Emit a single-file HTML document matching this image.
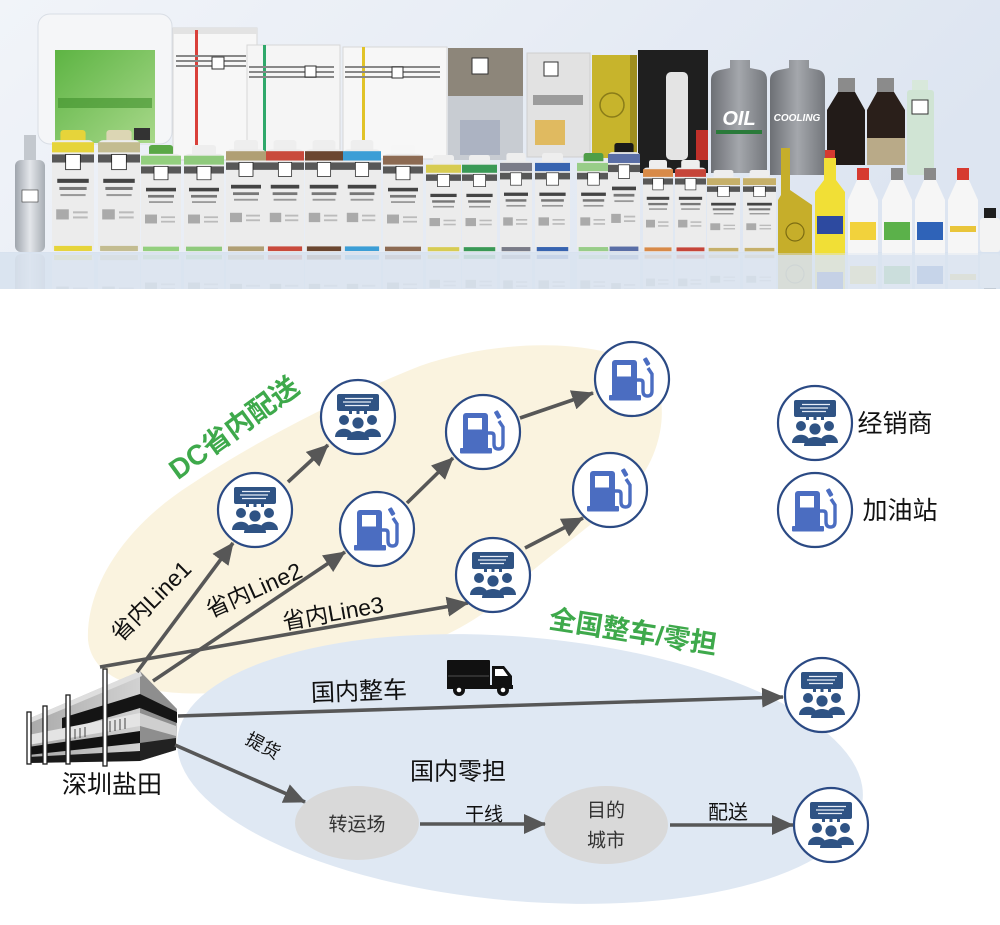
<!DOCTYPE html>
<html><head><meta charset="utf-8">
<style>
html,body{margin:0;padding:0;background:#fff;}
body{width:1000px;height:925px;overflow:hidden;}
svg{display:block;}
text{font-family:"Liberation Sans","Noto Sans CJK SC",sans-serif;}
</style></head>
<body>
<svg width="1000" height="925" viewBox="0 0 1000 925" xmlns="http://www.w3.org/2000/svg">
<defs>
  <linearGradient id="bg" x1="0" y1="0" x2="1" y2="0.3">
    <stop offset="0" stop-color="#f1f4f9"/><stop offset="0.5" stop-color="#e8edf5"/><stop offset="1" stop-color="#dde5f1"/>
  </linearGradient>
  <linearGradient id="grn" x1="0" y1="0" x2="1" y2="1">
    <stop offset="0" stop-color="#5db443"/><stop offset="1" stop-color="#a8d88a"/>
  </linearGradient>
  <linearGradient id="oil" x1="0" y1="0" x2="1" y2="0">
    <stop offset="0" stop-color="#6d7075"/><stop offset="0.5" stop-color="#a4a7ac"/><stop offset="1" stop-color="#74777c"/>
  </linearGradient>
  <linearGradient id="silver" x1="0" y1="0" x2="1" y2="0">
    <stop offset="0" stop-color="#9fa5ad"/><stop offset="0.5" stop-color="#e3e6ea"/><stop offset="1" stop-color="#a7adb4"/>
  </linearGradient>
  <linearGradient id="bldF" x1="0" y1="0" x2="1" y2="0">
    <stop offset="0" stop-color="#a9a9a9"/><stop offset="1" stop-color="#d2d2d2"/>
  </linearGradient>
  <clipPath id="photoClip"><rect x="0" y="0" width="1000" height="289"/></clipPath>
  <clipPath id="reflClip"><rect x="0" y="253" width="1000" height="36"/></clipPath>
  <marker id="ar" markerUnits="userSpaceOnUse" markerWidth="22" markerHeight="20" refX="21" refY="10" orient="auto">
    <path d="M0,0 L22,10 L0,20 z" fill="#575757"/>
  </marker>
  <symbol id="btl" viewBox="0 0 40 120" preserveAspectRatio="none">
    <rect x="8" y="0" width="24" height="14" rx="3" style="fill:var(--cap,#eee)"/>
    <rect x="0" y="10" width="40" height="110" rx="5" fill="#ececec"/>
    <rect x="0" y="12" width="40" height="10" style="fill:var(--band,#ccc)"/>
    <rect x="0" y="24" width="40" height="8" fill="#585858"/>
    <rect x="13" y="24" width="14" height="15" fill="#fff" stroke="#222" stroke-width=".8"/>
    <rect x="5" y="48" width="30" height="4" fill="#444"/>
    <rect x="7" y="56" width="26" height="3" fill="#777"/>
    <rect x="8" y="63" width="24" height="2" fill="#999"/>
    <rect x="4" y="78" width="12" height="10" fill="#aaa"/>
    <rect x="20" y="80" width="14" height="2" fill="#bbb"/>
    <rect x="20" y="85" width="14" height="2" fill="#bbb"/>
    <rect x="2" y="114" width="36" height="5" style="fill:var(--band,#ccc)"/>
  </symbol>
  <g id="dist">
    <circle r="37" fill="#fff" stroke="#2b4a84" stroke-width="2.2"/>
    <rect x="-21" y="-23" width="42" height="17" rx="2" fill="#2f5384"/>
    <path d="M-13,-18.5 h28 M-15,-15 h28 M-13,-11.5 h24" stroke="#e8eef8" stroke-width="1.3"/>
    <rect x="-9" y="-7" width="3" height="4" fill="#2f5384"/>
    <rect x="-1.5" y="-7" width="3" height="4" fill="#2f5384"/>
    <rect x="6" y="-7" width="3" height="4" fill="#2f5384"/>
    <g fill="#2f5384">
      <circle cx="-14" cy="3" r="5"/><circle cx="14" cy="3" r="5"/><circle cx="0" cy="6" r="5.6"/>
      <path d="M-23,20 C-23,9 -5,9 -5,20 Z"/>
      <path d="M5,20 C5,9 23,9 23,20 Z"/>
      <path d="M-11,23 C-11,11 11,11 11,23 Z"/>
    </g>
  </g>
  <g id="gas">
    <circle r="37" fill="#fff" stroke="#2b4a84" stroke-width="2.2"/>
    <g fill="#4b6dc1">
      <rect x="-20" y="-19" width="25" height="38" rx="3"/>
      <rect x="-23" y="16" width="32" height="5.5" rx="1"/>
    </g>
    <rect x="-15" y="-14" width="14" height="11.5" fill="#fff"/>
    <path d="M5,1 h3 q3,0 3,3 v8 q0,5 4.5,5 q4.5,0 4.5,-5 v-17 l-4,-6" fill="none" stroke="#4b6dc1" stroke-width="3.4"/>
    <rect x="12.5" y="-21" width="4.5" height="8" rx="1" fill="#4b6dc1" transform="rotate(-30 14 -17)"/>
  </g>
</defs>

<!-- ================= PRODUCT PHOTO ================= -->
<g clip-path="url(#photoClip)">
  <rect x="0" y="0" width="1000" height="290" fill="url(#bg)"/>
  <rect x="0" y="252" width="1000" height="38" fill="#d8e2ef"/>
  <g id="products">
    <rect x="38" y="14" width="134" height="130" rx="12" fill="#f5f6f8" stroke="#d9dee5"/>
    <rect x="55" y="50" width="100" height="93" fill="url(#grn)"/>
    <rect x="58" y="98" width="94" height="10" fill="#3f8f2c" opacity=".6"/>
    <rect x="134" y="128" width="16" height="12" fill="#333"/>
    <rect x="173" y="28" width="84" height="132" fill="#f7f7f7" stroke="#d7d7d7"/>
    <rect x="173" y="28" width="84" height="6" fill="#e3e3e3"/>
    <rect x="195" y="30" width="3" height="130" fill="#d9403a"/>
    <rect x="176" y="55" width="70" height="2" fill="#888"/><rect x="176" y="60" width="70" height="2" fill="#888"/><rect x="176" y="65" width="70" height="2" fill="#888"/>
    <rect x="212" y="57" width="12" height="12" fill="#fff" stroke="#333"/>
    <rect x="247" y="45" width="93" height="114" fill="#f5f5f5" stroke="#d7d7d7"/>
    <rect x="263" y="45" width="3" height="114" fill="#2fa86a"/>
    <rect x="249" y="66" width="85" height="2" fill="#888"/><rect x="249" y="71" width="85" height="2" fill="#888"/><rect x="249" y="76" width="85" height="2" fill="#888"/>
    <rect x="305" y="66" width="11" height="11" fill="#fff" stroke="#333"/>
    <rect x="343" y="47" width="104" height="112" fill="#f7f7f7" stroke="#d7d7d7"/>
    <rect x="362" y="47" width="3" height="112" fill="#e1c328"/>
    <rect x="345" y="66" width="95" height="2" fill="#888"/><rect x="345" y="71" width="95" height="2" fill="#888"/><rect x="345" y="76" width="95" height="2" fill="#888"/>
    <rect x="392" y="67" width="11" height="11" fill="#fff" stroke="#333"/>
    <rect x="448" y="48" width="75" height="112" fill="#c8ccd2"/>
    <rect x="448" y="48" width="75" height="48" fill="#8d867a"/>
    <rect x="472" y="58" width="16" height="16" fill="#fff" stroke="#333"/>
    <rect x="460" y="120" width="40" height="35" fill="#9fa8bb" opacity=".7"/>
    <rect x="527" y="53" width="63" height="104" fill="#e2e2e2" stroke="#cfcfcf"/>
    <rect x="544" y="62" width="14" height="14" fill="#fff" stroke="#333"/>
    <rect x="533" y="95" width="50" height="10" fill="#555" opacity=".5"/>
    <rect x="535" y="120" width="30" height="25" fill="#e0b040" opacity=".8"/>
    <rect x="592" y="55" width="45" height="103" fill="#c7b42c"/>
    <rect x="630" y="55" width="7" height="103" fill="#9f8e1f"/>
    <circle cx="612" cy="105" r="12" fill="none" stroke="#8a7c18" stroke-width="1.5"/>
    <rect x="638" y="50" width="70" height="123" fill="#1f1f1f"/>
    <rect x="666" y="72" width="22" height="88" rx="5" fill="#e4e4e4"/>
    <rect x="696" y="130" width="12" height="30" fill="#c0302a"/>
    <path d="M711,80 Q711,72 720,70 L730,68 L730,60 L750,60 L750,68 L760,70 Q767,72 767,80 L767,173 L711,173 Z" fill="url(#oil)"/>
    <text x="739" y="125" font-size="20" font-weight="bold" font-style="italic" fill="#fff" text-anchor="middle">OIL</text>
    <rect x="716" y="130" width="46" height="4" fill="#2a7a3a"/>
    <path d="M770,80 Q770,72 779,70 L789,68 L789,60 L809,60 L809,68 L819,70 Q825,72 825,80 L825,175 L770,175 Z" fill="url(#oil)"/>
    <text x="797" y="121" font-size="10" font-weight="bold" font-style="italic" fill="#fff" text-anchor="middle">COOLING</text>
    <rect x="838" y="78" width="17" height="14" fill="#8b8b8b"/>
    <path d="M838,92 L855,92 L865,110 L865,165 L827,165 L827,110 Z" fill="#221b18"/>
    <rect x="877" y="78" width="17" height="14" fill="#8b8b8b"/>
    <path d="M877,92 L894,92 L905,110 L905,165 L867,165 L867,110 Z" fill="#2a1f1a"/>
    <rect x="867" y="138" width="38" height="27" fill="#b9aa88"/>
    <rect x="912" y="80" width="16" height="12" fill="#d8e8db"/>
    <rect x="907" y="90" width="27" height="85" rx="3" fill="#d0e4d4"/>
    <rect x="912" y="100" width="16" height="14" fill="#fff" stroke="#333"/>
    <rect x="24" y="135" width="12" height="28" fill="#c3c8ce"/>
    <rect x="15" y="160" width="30" height="92" rx="6" fill="url(#silver)"/>
    <rect x="22" y="190" width="16" height="12" fill="#fff" stroke="#333" stroke-width=".6"/>
    <use href="#btl" x="52" y="130" width="42" height="122" style="--cap:#e6d43a;--band:#e6d43a"/>
    <use href="#btl" x="98" y="130" width="42" height="122" style="--cap:#dcd6b4;--band:#c3bc90"/>
    <use href="#btl" x="141" y="145" width="40" height="107" style="--cap:#5aa846;--band:#93cf7e"/>
    <use href="#btl" x="184" y="145" width="40" height="107" style="--cap:#eeeeee;--band:#8fca7c"/>
    <use href="#btl" x="226" y="140" width="40" height="112" style="--cap:#eeeeee;--band:#b09f74"/>
    <use href="#btl" x="266" y="140" width="38" height="112" style="--cap:#eeeeee;--band:#c94a3c"/>
    <use href="#btl" x="305" y="140" width="38" height="112" style="--cap:#eeeeee;--band:#6b4630"/>
    <use href="#btl" x="343" y="140" width="38" height="112" style="--cap:#eeeeee;--band:#3c9ed6"/>
    <use href="#btl" x="383" y="145" width="40" height="107" style="--cap:#f6f6f6;--band:#8c6a52"/>
    <use href="#btl" x="426" y="155" width="35" height="97" style="--cap:#eeeeee;--band:#d7cc52"/>
    <use href="#btl" x="462" y="155" width="35" height="97" style="--cap:#eeeeee;--band:#3a9956"/>
    <use href="#btl" x="500" y="153" width="32" height="99" style="--cap:#eeeeee;--band:#7a7c88"/>
    <use href="#btl" x="535" y="153" width="35" height="99" style="--cap:#eeeeee;--band:#3864b0"/>
    <use href="#btl" x="577" y="153" width="33" height="99" style="--cap:#4f9e48;--band:#98cd88"/>
    <use href="#btl" x="608" y="143" width="32" height="109" style="--cap:#1a1a1a;--band:#5a6ea6"/>
    <use href="#btl" x="643" y="160" width="30" height="92" style="--cap:#eeeeee;--band:#d88a48"/>
    <use href="#btl" x="675" y="160" width="31" height="92" style="--cap:#eeeeee;--band:#c64539"/>
    <use href="#btl" x="707" y="170" width="33" height="82" style="--cap:#eeeeee;--band:#c6b06a"/>
    <use href="#btl" x="743" y="170" width="33" height="82" style="--cap:#eeeeee;--band:#c6b06a"/>
    <path d="M781,148 L790,148 L790,190 L812,205 L812,255 L778,255 L778,200 L781,195 Z" fill="#c6ae2a"/>
    <circle cx="795" cy="232" r="9" fill="none" stroke="#7c6c12" stroke-width="1.2"/>
    <rect x="825" y="150" width="10" height="8" fill="#d63a30"/>
    <path d="M824,158 L836,158 L836,180 L845,192 L845,255 L815,255 L815,192 L824,180 Z" fill="#f1df36"/>
    <rect x="817" y="216" width="26" height="18" fill="#2d4aa0"/>
    <rect x="857" y="168" width="12" height="12" fill="#d63a30"/>
    <path d="M857,180 L869,180 L878,200 L878,255 L848,255 L848,200 Z" fill="#f6f6f6"/>
    <rect x="850" y="222" width="26" height="18" fill="#f2d23c"/>
    <rect x="891" y="168" width="12" height="12" fill="#8a8a8a"/>
    <path d="M891,180 L903,180 L912,200 L912,255 L882,255 L882,200 Z" fill="#f6f6f6"/>
    <rect x="884" y="222" width="26" height="18" fill="#5bb14a"/>
    <rect x="924" y="168" width="12" height="12" fill="#8a8a8a"/>
    <path d="M924,180 L936,180 L945,200 L945,255 L915,255 L915,200 Z" fill="#f6f6f6"/>
    <rect x="917" y="222" width="26" height="18" fill="#2f63b8"/>
    <rect x="957" y="168" width="12" height="12" fill="#d63a30"/>
    <path d="M957,180 L969,180 L978,200 L978,255 L948,255 L948,200 Z" fill="#f6f6f6"/>
    <rect x="950" y="226" width="26" height="6" fill="#e9c53a"/>
    <rect x="984" y="208" width="12" height="10" fill="#1e1e1e"/>
    <rect x="980" y="218" width="20" height="34" rx="3" fill="#f3f3f3"/>
  </g>
  <g clip-path="url(#reflClip)">
    <g opacity="0.22" transform="translate(0,506) scale(1,-1)">
      <use href="#products"/>
    </g>
  </g>
  <rect x="0" y="253" width="1000" height="36" fill="#dde6f2" opacity="0.45"/>
</g>

<!-- ================= DIAGRAM ================= -->
<path d="M88,640 C86,590 120,530 190,485 C250,445 330,402 420,366 C500,338 600,338 645,368 C672,392 665,450 635,485 C590,530 540,560 500,600 C450,645 350,675 250,690 C170,700 93,690 88,640 Z" fill="#faf3df"/>
<ellipse cx="520" cy="769" rx="344" ry="132" fill="#dfe8f3" transform="rotate(5 520 769)"/>

<ellipse cx="357" cy="823" rx="62" ry="37" fill="#d9d9d9"/>
<ellipse cx="606" cy="825" rx="62" ry="39" fill="#d9d9d9"/>

<!-- building -->
<g>
  <polygon points="28,719 140,671 140,761 28,763" fill="url(#bldF)"/>
  <polygon points="140,671 177,709 176,750 140,761" fill="#8e8e8e"/>
  <polygon points="28,719 140,671 142,676 30,723" fill="#dedede"/>
  <polygon points="62,718 140,694 140,708 62,731" fill="#141414"/>
  <polygon points="28,735 140,713 140,726 28,745" fill="#e4e4e4"/>
  <g stroke="#444" stroke-width="1">
    <line x1="75" y1="729" x2="75" y2="739"/><line x1="80" y1="728" x2="80" y2="738"/><line x1="85" y1="727" x2="85" y2="737"/>
    <line x1="110" y1="721" x2="110" y2="732"/><line x1="115" y1="720" x2="115" y2="731"/><line x1="120" y1="719" x2="120" y2="730"/><line x1="125" y1="718" x2="125" y2="729"/>
  </g>
  <polygon points="28,747 140,731 140,743 28,755" fill="#121212"/>
  <polygon points="28,757 140,751 140,761 28,763" fill="#1a1a1a"/>
  <polygon points="140,694 177,712 177,723 140,708" fill="#151515"/>
  <polygon points="140,713 176,726 176,736 140,726" fill="#cfcfcf"/>
  <polygon points="140,743 176,738 176,750 140,761" fill="#222"/>
  <g fill="#fff" stroke="#1e1e1e" stroke-width="1.3">
    <rect x="27" y="712" width="4" height="52"/>
    <rect x="43" y="706" width="4" height="58"/>
    <rect x="66" y="695" width="4" height="69"/>
    <rect x="103" y="669" width="4" height="97"/>
  </g>
</g>

<!-- truck -->
<g>
  <rect x="447" y="660" width="43" height="27" rx="1" fill="#111"/>
  <line x1="448" y1="676" x2="489" y2="676" stroke="#666" stroke-width="0.8"/>
  <path d="M492,666 h12 l8,10 v13 h-20 z" fill="#111"/>
  <path d="M495,669 h8 l5,7 h-13 z" fill="#fff"/>
  <rect x="447" y="685" width="66" height="4" fill="#111"/>
  <circle cx="459" cy="690" r="6" fill="#111"/><circle cx="459" cy="690" r="2.3" fill="#fff"/>
  <circle cx="503" cy="690" r="6" fill="#111"/><circle cx="503" cy="690" r="2.3" fill="#fff"/>
</g>

<!-- connectors -->
<g stroke="#575757" stroke-width="3.6" fill="none" marker-end="url(#ar)">
  <line x1="137" y1="672" x2="233" y2="543"/>
  <line x1="153" y1="681" x2="345" y2="552"/>
  <line x1="100" y1="667" x2="468" y2="603"/>
  <line x1="288" y1="482" x2="328" y2="445"/>
  <line x1="407" y1="503" x2="453" y2="458"/>
  <line x1="520" y1="418" x2="593" y2="393"/>
  <line x1="525" y1="548" x2="583" y2="518"/>
  <line x1="178" y1="716" x2="783" y2="697"/>
  <line x1="175" y1="745" x2="305" y2="802"/>
  <line x1="420" y1="824" x2="545" y2="824"/>
  <line x1="670" y1="825" x2="793" y2="825"/>
</g>

<!-- nodes -->
<use href="#dist" x="255" y="510"/>
<use href="#dist" x="358" y="417"/>
<use href="#gas" x="377" y="529"/>
<use href="#gas" x="483" y="432"/>
<use href="#gas" x="632" y="379"/>
<use href="#gas" x="610" y="490"/>
<use href="#dist" x="493" y="575"/>
<use href="#dist" x="822" y="695"/>
<use href="#dist" x="831" y="825"/>
<use href="#dist" x="815" y="423"/>
<use href="#gas" x="815" y="510"/>

<!-- labels -->
<g fill="#111" text-anchor="middle" dominant-baseline="central">
  <text x="234" y="428" font-size="28" font-weight="bold" fill="#3ea94b" transform="rotate(-36 234 428)">DC省内配送</text>
  <text x="633" y="632" font-size="27" font-weight="bold" fill="#3ea94b" transform="rotate(9 633 632)">全国整车/零担</text>
  <text x="151" y="601" font-size="23" transform="rotate(-45 151 601)">省内Line1</text>
  <text x="254" y="590" font-size="23" transform="rotate(-24 254 590)">省内Line2</text>
  <text x="333" y="613" font-size="23" transform="rotate(-10 333 613)">省内Line3</text>
  <text x="359" y="692" font-size="24" transform="rotate(-2 359 692)">国内整车</text>
  <text x="263" y="746" font-size="18" transform="rotate(28 263 746)">提货</text>
  <text x="458" y="772" font-size="24">国内零担</text>
  <text x="357" y="825" font-size="19" fill="#333">转运场</text>
  <text x="606" y="811" font-size="19" fill="#333">目的</text>
  <text x="606" y="841" font-size="19" fill="#333">城市</text>
  <text x="484" y="815" font-size="19">干线</text>
  <text x="728" y="813" font-size="20">配送</text>
  <text x="112" y="785" font-size="25">深圳盐田</text>
  <text x="895" y="424" font-size="25">经销商</text>
  <text x="900" y="511" font-size="25">加油站</text>
</g>
</svg>
</body></html>
